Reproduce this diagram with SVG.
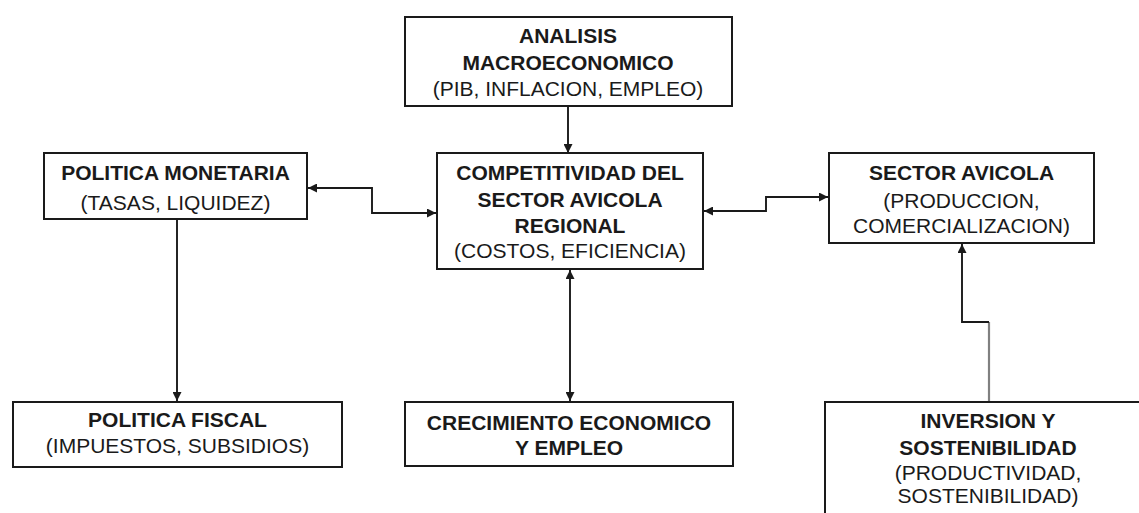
<svg xmlns="http://www.w3.org/2000/svg" width="1139" height="513" viewBox="0 0 1139 513">
<style>
.box{fill:#fff;stroke:#1a1a1a;stroke-width:2}
.t{font-family:"Liberation Sans",Arial,sans-serif;font-size:21px;fill:#1a1a1a;text-anchor:middle;dominant-baseline:central}
.b{font-weight:bold}
.c{fill:none;stroke:#1a1a1a;stroke-width:1.9}
</style>
<defs>
<marker id="ah" viewBox="0 0 10 10" refX="10" refY="5" markerWidth="10" markerHeight="9" markerUnits="userSpaceOnUse" orient="auto-start-reverse">
<path d="M0,0 L10,5 L0,10 z" fill="#1a1a1a"/>
</marker>
</defs>
<rect width="1139" height="513" fill="#fff"/>
<g id="connectors">
<path class="c" d="M568,106 V153" marker-end="url(#ah)"/>
<path class="c" d="M308,188 H372 V213 H436" marker-start="url(#ah)" marker-end="url(#ah)"/>
<path class="c" d="M704,211 H766 V197 H828" marker-start="url(#ah)" marker-end="url(#ah)"/>
<path class="c" d="M177,219 V401" marker-end="url(#ah)"/>
<path class="c" d="M570,270 V401" marker-start="url(#ah)" marker-end="url(#ah)"/>
<path d="M989,402 V322" fill="none" stroke="#808080" stroke-width="2.2"/>
<path class="c" d="M989,322 H962 V244" marker-end="url(#ah)"/>
</g>
<g id="analisis">
<rect class="box" x="405" y="17" width="327" height="89"/>
<text class="t b" x="568" y="35">ANALISIS</text>
<text class="t b" x="568" y="62">MACROECONOMICO</text>
<text class="t" x="568" y="88">(PIB, INFLACION, EMPLEO)</text>
</g>
<g id="monetaria">
<rect class="box" x="44" y="153" width="263" height="66"/>
<text class="t b" x="175.5" y="172">POLITICA MONETARIA</text>
<text class="t" x="175.5" y="202">(TASAS, LIQUIDEZ)</text>
</g>
<g id="competitividad">
<rect class="box" x="437" y="153" width="266" height="116"/>
<text class="t b" x="570" y="172">COMPETITIVIDAD DEL</text>
<text class="t b" x="570" y="199">SECTOR AVICOLA</text>
<text class="t b" x="570" y="225">REGIONAL</text>
<text class="t" x="570" y="250">(COSTOS, EFICIENCIA)</text>
</g>
<g id="sector">
<rect class="box" x="829" y="153" width="265" height="90"/>
<text class="t b" x="961.5" y="172">SECTOR AVICOLA</text>
<text class="t" x="961.5" y="200">(PRODUCCION,</text>
<text class="t" x="961.5" y="225">COMERCIALIZACION)</text>
</g>
<g id="fiscal">
<rect class="box" x="13" y="402" width="329" height="65"/>
<text class="t b" x="177.5" y="419">POLITICA FISCAL</text>
<text class="t" x="177.5" y="445">(IMPUESTOS, SUBSIDIOS)</text>
</g>
<g id="crecimiento">
<rect class="box" x="405" y="402" width="328" height="64"/>
<text class="t b" x="569" y="422">CRECIMIENTO ECONOMICO</text>
<text class="t b" x="569" y="447">Y EMPLEO</text>
</g>
<g id="inversion">
<rect class="box" x="825" y="402" width="326" height="130"/>
<text class="t b" x="988" y="420">INVERSION Y</text>
<text class="t b" x="988" y="447">SOSTENIBILIDAD</text>
<text class="t" x="988" y="472">(PRODUCTIVIDAD,</text>
<text class="t" x="988" y="495">SOSTENIBILIDAD)</text>
</g>
</svg>
